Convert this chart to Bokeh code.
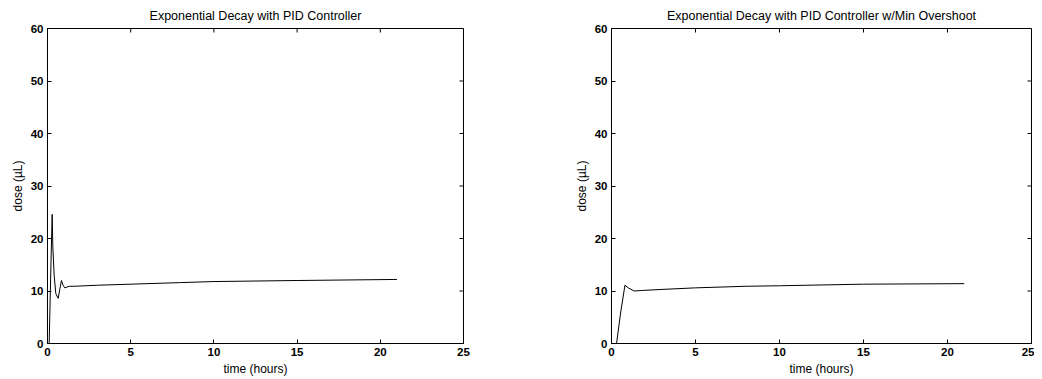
from bokeh.plotting import figure
from bokeh.models import Range1d, FixedTicker
from bokeh.layouts import row
from bokeh.embed import file_html
from bokeh.resources import INLINE

# ---- data ----
titles = ["Exponential Decay with PID Controller",
          "Exponential Decay with PID Controller w/Min Overshoot"]
x_label = "time (hours)"
y_label = "dose (\u00b5L)"
x_ticks = [0, 5, 10, 15, 20, 25]
y_ticks = [0, 10, 20, 30, 40, 50, 60]

t_pid = [0.0, 0.1, 0.2, 0.28, 0.32, 0.4, 0.5, 0.64, 0.75, 0.84, 0.95, 1.04, 1.3, 1.6, 3.0, 5.0, 8.0, 10.0, 15.0, 21.0]
d_pid = [0.0, 0.0, 14.0, 24.6, 18.5, 13.0, 9.5, 8.6, 10.5, 12.0, 11.0, 10.6, 10.9, 10.9, 11.1, 11.3, 11.6, 11.8, 12.0, 12.2]

t_min = [0.0, 0.3, 0.55, 0.8, 1.0, 1.35, 1.8, 3.0, 5.0, 8.0, 10.0, 15.0, 21.0]
d_min = [0.0, 0.0, 6.0, 11.1, 10.6, 10.0, 10.1, 10.3, 10.6, 10.9, 11.0, 11.3, 11.4]

FONT = "Liberation Sans"
X_MAX = x_ticks[-1]
Y_MAX = y_ticks[-1]
FRAME_H = 315


def make_fig(title, t, d, border_left, frame_w, border_right):
    p = figure(output_backend="svg", toolbar_location=None,
               frame_width=frame_w, frame_height=FRAME_H,
               min_border_left=border_left, min_border_right=border_right,
               min_border_top=28, min_border_bottom=34,
               x_range=Range1d(0, X_MAX), y_range=Range1d(0, Y_MAX),
               title=title)
    p.title.align = "center"
    p.title.text_font = FONT
    p.title.text_font_size = "12.5px"
    p.title.text_font_style = "normal"
    p.title.text_color = "black"
    p.title.standoff = 11
    p.xgrid.visible = False
    p.ygrid.visible = False
    p.outline_line_color = "black"
    p.background_fill_color = "white"
    p.border_fill_color = "white"

    p.xaxis.ticker = FixedTicker(ticks=x_ticks)
    p.yaxis.ticker = FixedTicker(ticks=y_ticks)
    p.xaxis.axis_label = x_label
    p.yaxis.axis_label = y_label
    for ax in (p.xaxis[0], p.yaxis[0]):
        ax.major_tick_in = 4
        ax.major_tick_out = 0
        ax.minor_tick_line_color = None
        ax.axis_line_color = "black"
        ax.major_tick_line_color = "black"
        ax.major_label_text_font = FONT
        ax.major_label_text_font_size = "11.5px"
        ax.major_label_text_font_style = "bold"
        ax.major_label_text_color = "black"
        ax.axis_label_text_font = FONT
        ax.axis_label_text_font_size = "12px"
        ax.axis_label_text_font_style = "normal"
        ax.axis_label_text_color = "black"
        ax.axis_label_standoff = 3
        ax.major_label_standoff = 4

    # inward ticks on the top and right edges (MATLAB box style), 4px long
    tx = 4.0 * X_MAX / frame_w
    ty = 4.0 * Y_MAX / FRAME_H
    p.segment(x0=x_ticks, y0=[Y_MAX] * len(x_ticks), x1=x_ticks,
              y1=[Y_MAX - ty] * len(x_ticks), line_color="black", line_width=1)
    p.segment(x0=[X_MAX] * len(y_ticks), y0=y_ticks, x1=[X_MAX - tx] * len(y_ticks),
              y1=y_ticks, line_color="black", line_width=1)

    p.line(t, d, line_color="black", line_width=1)
    return p


p1 = make_fig(titles[0], t_pid, d_pid, 47, 416, 65)
p2 = make_fig(titles[1], t_min, d_min, 83, 420, 3)
layout = row(p1, p2)

open("out.html", "w").write(file_html(layout, INLINE))
